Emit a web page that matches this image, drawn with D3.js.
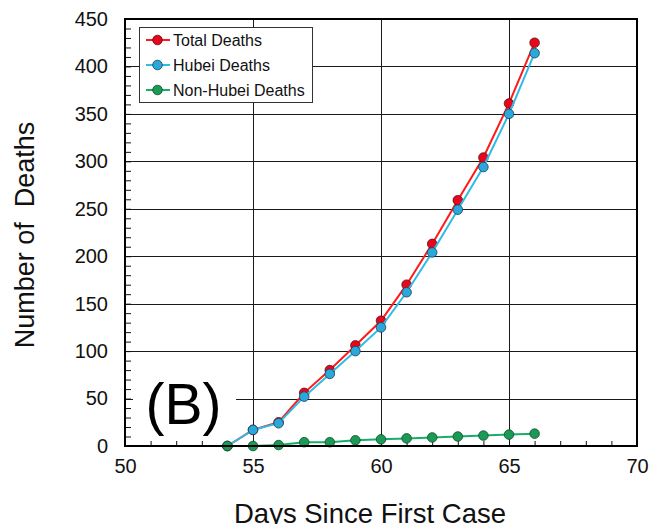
<!DOCTYPE html>
<html>
<head>
<meta charset="utf-8">
<script src="https://cdn.jsdelivr.net/npm/d3@7"></script>
<style>
  html, body { margin: 0; padding: 0; background: #fff; }
  svg { display: block; font-family: "Liberation Sans", Arial, sans-serif; }
</style>
</head>
<body>
<svg id="chart" width="655" height="524"></svg>
<script>
// Days since the first case
const days = [54, 55, 56, 57, 58, 59, 60, 61, 62, 63, 64, 65, 66];
// Cumulative deaths per day
const totalDeaths    = [0, 17, 25, 56, 80, 106, 132, 170, 213, 259, 304, 361, 425];
const hubeiDeaths    = [0, 17, 24, 52, 76, 100, 125, 162, 204, 249, 294, 350, 414];
const nonHubeiDeaths = [0, 0, 1, 4, 4, 6, 7, 8, 9, 10, 11, 12, 13];

const xTicks = [50, 55, 60, 65, 70];
const yTicks = [0, 50, 100, 150, 200, 250, 300, 350, 400, 450];
const seriesNames = ["Total Deaths", "Hubei Deaths", "Non-Hubei Deaths"];

const series = [
  { name: seriesNames[0], values: totalDeaths,    line: "#ff1a1a", fill: "#e8061e", stroke: "#5a1010" },
  { name: seriesNames[1], values: hubeiDeaths,    line: "#2fbbe8", fill: "#2aa8dc", stroke: "#1d3f55" },
  { name: seriesNames[2], values: nonHubeiDeaths, line: "#17ad6a", fill: "#1a9a55", stroke: "#134a2c" }
];

const svg = d3.select("#chart");
const L = 125, R = 637, T = 19, B = 446;

const x = d3.scaleLinear().domain([50, 70]).range([L, R]);
const y = d3.scaleLinear().domain([0, 450]).range([B, T]);
const crisp = v => Math.round(v) + 0.5;

// grid lines
const grid = svg.append("g").attr("stroke", "#1a1a1a").attr("stroke-width", 1);
grid.selectAll("line.gx").data(xTicks.slice(1, -1)).join("line")
  .attr("x1", d => crisp(x(d))).attr("x2", d => crisp(x(d)))
  .attr("y1", T).attr("y2", B);
grid.selectAll("line.gy").data(yTicks.slice(1, -1)).join("line")
  .attr("x1", L).attr("x2", R)
  .attr("y1", d => crisp(y(d))).attr("y2", d => crisp(y(d)));

// minor ticks pointing into the plot
const yMinor = d3.range(0, 451, 10);
const xMinor = d3.range(50, 71, 1);
svg.append("g").attr("transform", `translate(${L},0)`)
  .call(d3.axisLeft(y).tickValues(yMinor).tickSize(-6).tickFormat(""))
  .call(g => g.select(".domain").remove())
  .call(g => g.selectAll("line").attr("stroke", "#111").attr("stroke-width", 1));
svg.append("g").attr("transform", `translate(0,${B})`)
  .call(d3.axisBottom(x).tickValues(xMinor).tickSize(-5).tickFormat(""))
  .call(g => g.select(".domain").remove())
  .call(g => g.selectAll("line").attr("stroke", "#111").attr("stroke-width", 1));

// tick labels
svg.append("g").attr("transform", `translate(${L},0)`)
  .call(d3.axisLeft(y).tickValues(yTicks).tickSize(0).tickPadding(17).tickFormat(d3.format("d")))
  .call(g => g.select(".domain").remove())
  .call(g => g.selectAll("text").attr("font-size", 20).attr("fill", "#111")
    .attr("font-family", "'Liberation Sans', Arial, sans-serif"));
svg.append("g").attr("transform", `translate(0,${B})`)
  .call(d3.axisBottom(x).tickValues(xTicks).tickSize(0).tickPadding(13).tickFormat(d3.format("d")))
  .call(g => g.select(".domain").remove())
  .call(g => g.selectAll("text").attr("font-size", 20).attr("fill", "#111")
    .attr("font-family", "'Liberation Sans', Arial, sans-serif"));

// panel label with white backing
svg.append("rect").attr("x", 133).attr("y", 366).attr("width", 103).attr("height", 75).attr("fill", "#fff");
svg.append("text").attr("x", 183.5).attr("y", 424).attr("text-anchor", "middle")
  .attr("font-size", 57).attr("fill", "#000").text("(B)");

// series lines and markers
const lineGen = d3.line().x((d, i) => x(days[i])).y(d => y(d));
series.forEach(s => {
  svg.append("path").datum(s.values)
    .attr("fill", "none").attr("stroke", s.line).attr("stroke-width", 2)
    .attr("d", lineGen);
  svg.append("g").selectAll("circle").data(s.values).join("circle")
    .attr("cx", (d, i) => x(days[i])).attr("cy", d => y(d)).attr("r", 4.8)
    .attr("fill", s.fill).attr("stroke", s.stroke).attr("stroke-width", 0.8);
});

// plot frame
svg.append("rect").attr("x", L).attr("y", T).attr("width", R - L).attr("height", B - T)
  .attr("fill", "none").attr("stroke", "#000").attr("stroke-width", 2);

// legend
const lg = svg.append("g");
lg.append("rect").attr("x", 139.5).attr("y", 27.5).attr("width", 173).attr("height", 75)
  .attr("fill", "#fff").attr("stroke", "#333").attr("stroke-width", 1);
series.forEach((s, i) => {
  const cy = 40 + i * 25;
  lg.append("line").attr("x1", 146).attr("x2", 170).attr("y1", cy).attr("y2", cy)
    .attr("stroke", s.line).attr("stroke-width", 2);
  lg.append("circle").attr("cx", 157.5).attr("cy", cy).attr("r", 4.8)
    .attr("fill", s.fill).attr("stroke", s.stroke).attr("stroke-width", 0.8);
  lg.append("text").attr("x", 173).attr("y", cy + 5.5).attr("font-size", 16)
    .attr("fill", "#111").text(s.name);
});

// axis titles
svg.append("text").attr("x", 370).attr("y", 523).attr("text-anchor", "middle")
  .attr("font-size", 27.5).attr("fill", "#111").text("Days Since First Case");
svg.append("text").attr("transform", "translate(34,235) rotate(-90)")
  .attr("text-anchor", "middle").attr("font-size", 27).attr("fill", "#111")
  .attr("xml:space", "preserve").style("white-space", "pre")
  .text("Number of  Deaths");
</script>
</body>
</html>
